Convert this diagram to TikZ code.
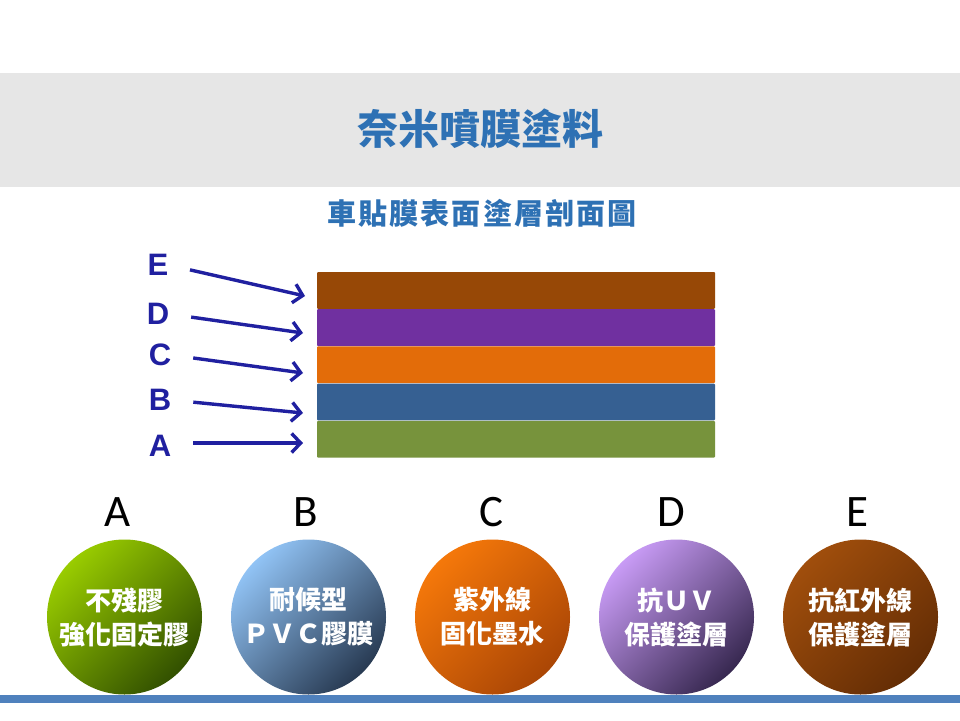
\documentclass[tikz,border=0pt]{standalone}
\usepackage{fontspec}
\usepackage{tikz}
\usetikzlibrary{positioning,arrows.meta}
\setmainfont{Noto Sans CJK TC}
\newfontfamily\latinfont{Carlito}
\newfontfamily\arialfont{Liberation Sans}[BoldFont={Liberation Sans Bold}]

\definecolor{bandgray}{RGB}{230,230,230}
\definecolor{barblue}{RGB}{79,129,189}
\definecolor{headblue}{RGB}{46,113,180}
\definecolor{tagblue}{RGB}{32,32,160}
\definecolor{layE}{RGB}{151,72,6}
\definecolor{layD}{RGB}{112,48,160}
\definecolor{layC}{RGB}{227,108,9}
\definecolor{layB}{RGB}{54,96,146}
\definecolor{layA}{RGB}{119,147,60}
\definecolor{gA1}{RGB}{153,204,0}
\definecolor{gA2}{RGB}{50,80,0}
\definecolor{gB1}{RGB}{145,195,245}
\definecolor{gB2}{RGB}{40,58,82}
\definecolor{gC1}{RGB}{245,120,10}
\definecolor{gC2}{RGB}{170,70,5}
\definecolor{gD1}{RGB}{200,155,245}
\definecolor{gD2}{RGB}{55,40,80}
\definecolor{gE1}{RGB}{160,78,12}
\definecolor{gE2}{RGB}{100,45,5}

\tikzset{
  head/.style={font=\bfseries\fontsize{41}{44}\selectfont, text=headblue},
  subhead/.style={font=\bfseries\fontsize{29}{32}\selectfont\addfontfeature{LetterSpace=7}, text=headblue},
  layer/.style={minimum width=398pt, minimum height=36.8pt, inner sep=0pt, rounded corners=1pt},
  tag/.style={font=\arialfont\bfseries\fontsize{31}{31}\selectfont, text=tagblue, inner sep=0pt},
  arr/.style={draw=tagblue, line width=3.4pt, shorten <=22pt, -{Straight Barb[length=9pt,width=19pt]}},
  disc/.style 2 args={circle, minimum size=155pt, inner sep=0pt, top color=#1, bottom color=#2,
    shading angle=45, text=white, align=center, font=\bfseries\fontsize{26}{34}\selectfont},
  letter/.style={font=\latinfont\fontsize{45}{45}\selectfont, inner sep=0pt, anchor=base}
}

\begin{document}
\begin{tikzpicture}[x=1pt,y=-1pt]
  \useasboundingbox (0,0) rectangle (960,720);
  \fill[white] (0,0) rectangle (960,720);
  \fill[bandgray] (0,73) rectangle (960,187);
  \fill[barblue] (0,695) rectangle (960,703);

  \node[head] (title) at (480,129) {奈米噴膜塗料};
  \node[subhead] (sub) at (482,213) {車貼膜表面塗層剖面圖};

  % layers
  \node[layer, fill=layE] (layE) at (516,290.4) {};
  \node[layer, fill=layD, below=0pt of layE] (layD) {};
  \node[layer, fill=layC, below=0pt of layD] (layC) {};
  \node[layer, fill=layB, below=0pt of layC] (layB) {};
  \node[layer, fill=layA, below=0pt of layB] (layA) {};

  % tags and arrows
  \node[tag] (lE) at (158,265) {E};
  \node[tag] (lD) at (158,314) {D};
  \node[tag] (lC) at (160,355) {C};
  \node[tag] (lB) at (160,400) {B};
  \node[tag] (lA) at (160,446) {A};
  \coordinate (tE) at (305,296);
  \coordinate (tD) at (303,333);
  \coordinate (tC) at (303,373);
  \coordinate (tB) at (303,413);
  \coordinate (tA) at (303,443);
  \draw[arr] (lE.east) -- (tE);
  \draw[arr] (lD.east) -- (tD);
  \draw[arr] (lC.east) -- (tC);
  \draw[arr] (lB.east) -- (tB);
  \draw[arr] ([yshift=3pt]lA.east) -- (tA);

  % discs
  \node[disc={gA1}{gA2}] (cA) at (124.5,617) {不殘膠\\強化固定膠};
  \node[disc={gB1}{gB2}, right=28.6pt of cA] (cB) {耐候型\\ＰＶＣ膠膜};
  \node[disc={gC1}{gC2}, right=28.6pt of cB] (cC) {紫外線\\固化墨水};
  \node[disc={gD1}{gD2}, right=28.6pt of cC] (cD) {抗ＵＶ\\保護塗層};
  \node[disc={gE1}{gE2}, right=28.6pt of cD] (cE) {抗紅外線\\保護塗層};

  % letters
  \node[letter] (kA) at (118,526) {A};
  \node[letter] (kB) at (306,526) {B};
  \node[letter] (kC) at (491,526) {C};
  \node[letter] (kD) at (671,526) {D};
  \node[letter] (kE) at (857,526) {E};
\end{tikzpicture}
\end{document}
